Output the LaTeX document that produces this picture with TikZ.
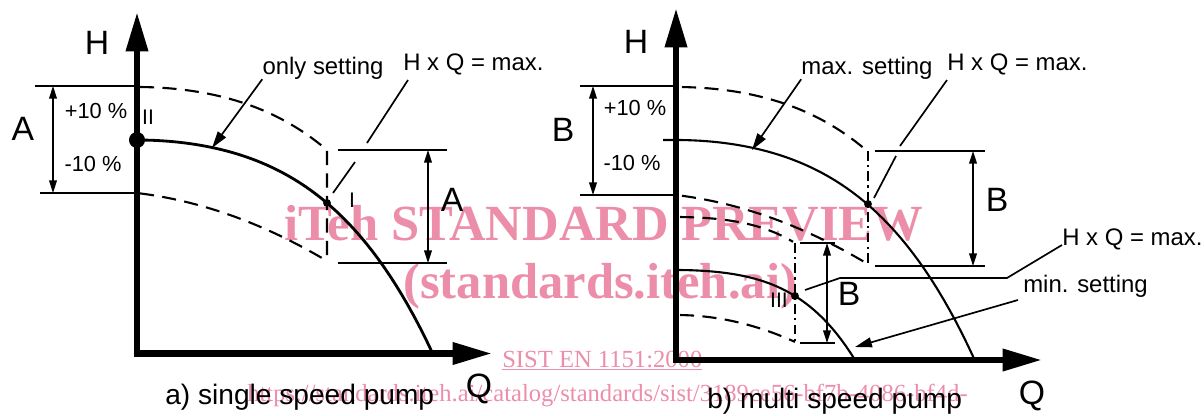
\documentclass[tikz,border=0pt]{standalone}
\usepackage{fontspec}
\setmainfont{Liberation Sans}
\newfontfamily\wmfont{Liberation Serif}
\usepackage{xcolor}
\definecolor{wmpink}{HTML}{EC8DAA}
\usepackage{tikz}
\usetikzlibrary{arrows.meta,calc}
\tikzset{
  >={Triangle[length=9pt,width=5.5pt]},
  axisline/.style ={line width=4.6pt,line join=miter,
                    {Triangle[length=28pt,width=15pt]}-{Triangle[length=28pt,width=15pt]}},
  pumpcurve/.style={line width=2pt},
  thincurve/.style={line width=1.5pt},
  bandline/.style ={line width=1.5pt,dash pattern=on 10pt off 6pt},
  limline/.style  ={line width=1.4pt,dash pattern=on 7pt off 3pt on 1.5pt off 3pt},
  dimline/.style  ={line width=1.2pt},
  leadline/.style ={line width=1.2pt},
  leadarrow/.style={line width=1.2pt,-{Triangle[length=12pt,width=7pt]}},
  lbl/.style      ={font=\fontsize{17}{20}\selectfont,inner sep=0pt},
  biglbl/.style   ={font=\fontsize{24}{28}\selectfont,inner sep=0pt},
  pct/.style      ={font=\fontsize{15.5}{18}\selectfont,inner sep=0pt},
  roman/.style    ={font=\fontsize{15}{18}\selectfont,inner sep=0pt},
  capt/.style     ={font=\fontsize{20}{24}\selectfont,inner sep=0pt},
  wm/.style       ={font=\wmfont\bfseries\fontsize{36}{40}\selectfont,text=wmpink,inner sep=0pt},
  wmsm/.style     ={font=\wmfont\fontsize{17.5}{20}\selectfont,text=wmpink,inner sep=0pt},
}

\begin{document}
\begin{tikzpicture}[x=0.025cm,y=-0.025cm]
\useasboundingbox (0,0) rectangle (1204,415);
% watermark
\node[wm,anchor=base] (wmtitle) at (604,240) {iTeh STANDARD PREVIEW};
\node[wm,anchor=base west] (wmsite) at (403,298) {(standards.iteh.ai)};
\node[wmsm,anchor=base west] (wmdoc) at (502,367) {\underline{SIST EN 1151:2000}};
\node[wmsm,anchor=base west] (wmurl) at (247,401) {https://standards.iteh.ai/catalog/standards/sist/3189ce56-bf7b-4086-bf4d-};

% ---------- a) single speed pump ----------
\coordinate (Hta) at (137,12);
\coordinate (Qta) at (492,353.5);
\draw[axisline] (Hta) |- (Qta);
\node[biglbl] (Hlbla) at (97,43) {H};
\node[biglbl] (Qlbla) at (479,389) {Q};
% tolerance band
\draw[bandline] plot[domain=0.03:1.9,samples=30] ({137+100*\x},{87+12.555*\x^2+1.357*\x^4}) -- (327,258);
\draw[bandline] plot[domain=0.03:1.87,samples=30] ({137+100*\x},{193+12.04*\x+12.49*\x^2});
% pump curve
\draw[pumpcurve] plot[domain=0:2.95,samples=50] ({137+100*\x},{140+12.555*\x^2+1.357*\x^4});
\coordinate (ptIIa) at (137,140);
\coordinate (ptIa) at (327,203);
\fill (ptIIa) circle (5.7pt);
\fill (ptIa) circle (2.8pt);
\node[roman] (IIa) at (148,117) {II};
\node[roman] (Ia) at (352,200) {I};
% dimension A, left
\draw[dimline] (35,86) -- (137,86) (40,193) -- (137,193);
\draw[dimline,<->] (53,86) -- (53,193);
\node[biglbl] (Aleft) at (23,129) {A};
\node[pct] (plusa) at (96,111) {+10 \%};
\node[pct] (minusa) at (93,164) {-10 \%};
% dimension A, right
\draw[dimline] (338,150) -- (447,150) (338,263) -- (447,263);
\draw[dimline,<->] (428,150) -- (428,263);
\node[biglbl] (Aright) at (452,200) {A};
% leaders
\node[lbl,anchor=base] (onlyset) at (323,74) {only setting};
\coordinate (onlyend) at (212,148);
\draw[leadarrow] (onlyset.south west) -- (onlyend);
\node[lbl,anchor=base west] (hqa) at (403,70) {H x Q = max.};
\draw[leadline] (408,80) -- (367,143) (355,162) -- (333,193);
\node[capt,anchor=base west] (capa) at (165,404) {a) single speed pump};

% ---------- b) multi speed pump ----------
\coordinate (Htb) at (676,8);
\coordinate (Qtb) at (1042,360);
\draw[axisline] (Htb) |- (Qtb);
\node[biglbl] (Hlblb) at (636,42) {H};
\node[biglbl] (Qlblb) at (1032,396) {Q};
% max. band
\draw[bandline] plot[domain=0.06:1.92,samples=30] ({676+100*\x},{87+12.555*\x^2+1.357*\x^4});
\draw[bandline] plot[domain=0.06:1.92,samples=30] ({676+100*\x},{195+12.04*\x+12.49*\x^2});
\draw[limline] (868,151) -- (868,265);
\draw[thincurve] (663,140) -- plot[domain=0:2.98,samples=50] ({676+100*\x},{140+12.555*\x^2+1.357*\x^4});
% min. band
\draw[bandline] plot[domain=0.04:1.17,samples=20] ({676+100*\x},{217+10.66*\x^2+5.437*\x^4});
\draw[bandline] plot[domain=0.04:1.19,samples=20] ({676+100*\x},{315+19*\x^2});
\draw[limline] (795,243) -- (795,342);
\draw[thincurve] plot[domain=0:1.79,samples=40] ({676+100*\x},{270+10.66*\x^2+5.437*\x^4});
\coordinate (ptmax) at (868,204);
\coordinate (ptIII) at (795,296);
\fill (ptmax) circle (2.8pt);
\fill (ptIII) circle (2.8pt);
\node[roman] (IIIb) at (779,300) {III};
% dimension B, left
\draw[dimline] (580,86) -- (676,86) (580,195) -- (676,195);
\draw[dimline,<->] (593,86) -- (593,195);
\node[biglbl] (Bleft) at (563,130) {B};
\node[pct] (plusb) at (635,108) {+10 \%};
\node[pct] (minusb) at (632,163) {-10 \%};
% dimension B, right
\draw[dimline] (875,151) -- (985,151) (875,266) -- (985,266);
\draw[dimline,<->] (973,151) -- (973,266);
\node[biglbl] (Bright) at (997,200) {B};
% dimension B, min.
\draw[dimline] (800,243) -- (835,243) (800,343) -- (835,343);
\draw[dimline,<->] (827,243) -- (827,343);
\node[biglbl] (Bmin) at (849,294) {B};
% leaders
\node[lbl,anchor=base] (maxset) at (867,74) {max. setting};
\coordinate (maxend) at (752,150);
\draw[leadarrow] (maxset.south west) -- (maxend);
\node[lbl,anchor=base west] (hqb) at (947,70) {H x Q = max.};
\draw[leadline] (947,80) -- (900,146) (896,156) -- (874,198);
\node[lbl,anchor=base west] (hqc) at (1062,245) {H x Q = max.};
\draw[leadline] (805,290) -- (840,278) -- (1007,278) -- (hqc.base west);
\node[lbl,anchor=base west] (minset) at (1023,292) {min. setting};
\coordinate (minstart) at (1018,300);
\coordinate (minend) at (855,347);
\draw[leadarrow] (minstart) -- (minend);
\node[capt,anchor=base west] (capb) at (707,408) {b) multi speed pump};
\end{tikzpicture}
\end{document}
